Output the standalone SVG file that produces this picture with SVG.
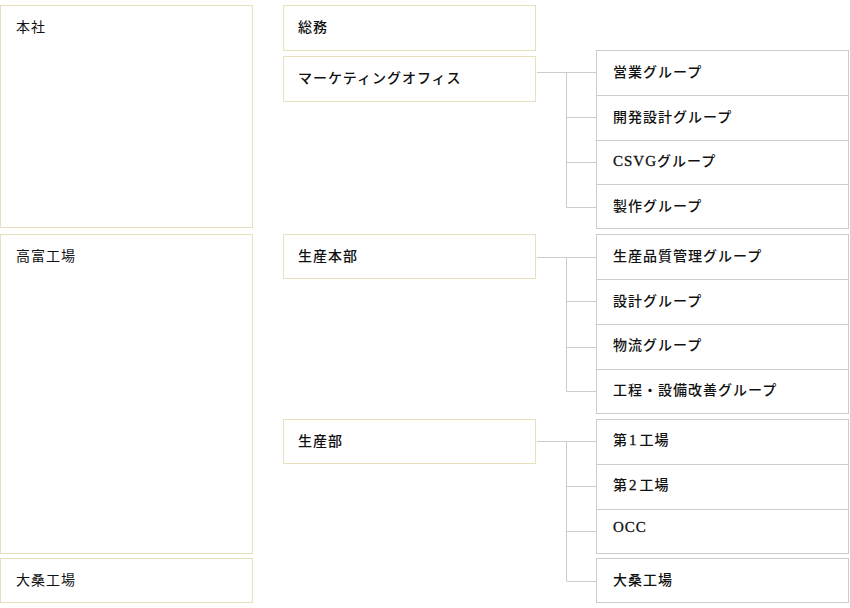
<svg xmlns="http://www.w3.org/2000/svg" width="850" height="608" viewBox="0 0 850 608">
<style>
.b{fill:#fff;stroke:#e8dfbf;stroke-width:1}
.g{fill:#fff;stroke:#cccccc;stroke-width:1}
.d{stroke:#cccccc;stroke-width:1;fill:none}
text{font-family:"Liberation Serif","Noto Sans CJK JP",serif;font-size:14px;fill:#111;letter-spacing:1px}
.l{font-weight:400}
.m{font-weight:500}
.lat{font-weight:400;font-size:15px;stroke:#111;stroke-width:0.3}
</style>
<rect width="850" height="608" fill="#fff"/>
<g id="honsha"><rect class="b" x="0.5" y="5.5" width="252" height="222"/><text class="l" x="16" y="32">本社</text></g>
<g id="takatomi"><rect class="b" x="0.5" y="234.5" width="252" height="319"/><text class="l" x="16" y="261">高富工場</text></g>
<g id="okuwa"><rect class="b" x="0.5" y="558.5" width="252" height="44"/><text class="l" x="16" y="585">大桑工場</text></g>
<g id="soumu"><rect class="b" x="283.5" y="5.5" width="252" height="45"/><text class="m" x="298" y="32">総務</text></g>
<g id="marketing"><rect class="b" x="283.5" y="56.5" width="252" height="45"/><text class="m" x="298" y="83">マーケティングオフィス</text></g>
<g id="seisan-honbu"><rect class="b" x="283.5" y="234.5" width="252" height="44"/><text class="m" x="298" y="261">生産本部</text></g>
<g id="seisanbu"><rect class="b" x="283.5" y="419.5" width="252" height="44"/><text class="m" x="298" y="446">生産部</text></g>
<g id="eigyo"><rect class="g" x="596.5" y="50.5" width="252" height="45"/><text class="m" x="613" y="77">営業グループ</text></g>
<g id="kaihatsu"><rect class="g" x="596.5" y="95.5" width="252" height="45"/><text class="m" x="613" y="122">開発設計グループ</text></g>
<g id="csvg"><rect class="g" x="596.5" y="140.5" width="252" height="44"/><text class="m" x="613" y="166"><tspan class="lat">CSVG</tspan>グループ</text></g>
<g id="seisaku"><rect class="g" x="596.5" y="184.5" width="252" height="44"/><text class="m" x="613" y="211">製作グループ</text></g>
<g id="hinshitsu"><rect class="g" x="596.5" y="234.5" width="252" height="45"/><text class="m" x="613" y="261">生産品質管理グループ</text></g>
<g id="sekkei"><rect class="g" x="596.5" y="279.5" width="252" height="45"/><text class="m" x="613" y="306">設計グループ</text></g>
<g id="butsuryu"><rect class="g" x="596.5" y="324.5" width="252" height="45"/><text class="m" x="613" y="350">物流グループ</text></g>
<g id="koutei"><rect class="g" x="596.5" y="369.5" width="252" height="44"/><text class="m" x="613" y="395">工程・設備改善グループ</text></g>
<g id="dai1"><rect class="g" x="596.5" y="419.5" width="252" height="45"/><text class="m" x="613" y="445">第<tspan class="lat" dx="1">1</tspan><tspan dx="2">工場</tspan></text></g>
<g id="dai2"><rect class="g" x="596.5" y="464.5" width="252" height="45"/><text class="m" x="613" y="490">第<tspan class="lat" dx="1">2</tspan><tspan dx="2">工場</tspan></text></g>
<g id="occ"><rect class="g" x="596.5" y="509.5" width="252" height="44"/><text class="m" x="613" y="532"><tspan class="lat">OCC</tspan></text></g>
<g id="okuwa2"><rect class="g" x="596.5" y="558.5" width="252" height="44"/><text class="m" x="613" y="585">大桑工場</text></g>
<g id="connectors">
<path class="d" d="M537 72.5H596M566.5 72.5V207.5M566.5 117.5H596M566.5 162.5H596M566.5 207.5H596"/>
<path class="d" d="M537 257.5H596M566.5 257.5V391.5M566.5 301.5H596M566.5 347.5H596M566.5 391.5H596"/>
<path class="d" d="M537 441.5H596M566.5 441.5V581.5M566.5 486.5H596M566.5 531.5H596M566.5 581.5H596"/>
</g>
</svg>
